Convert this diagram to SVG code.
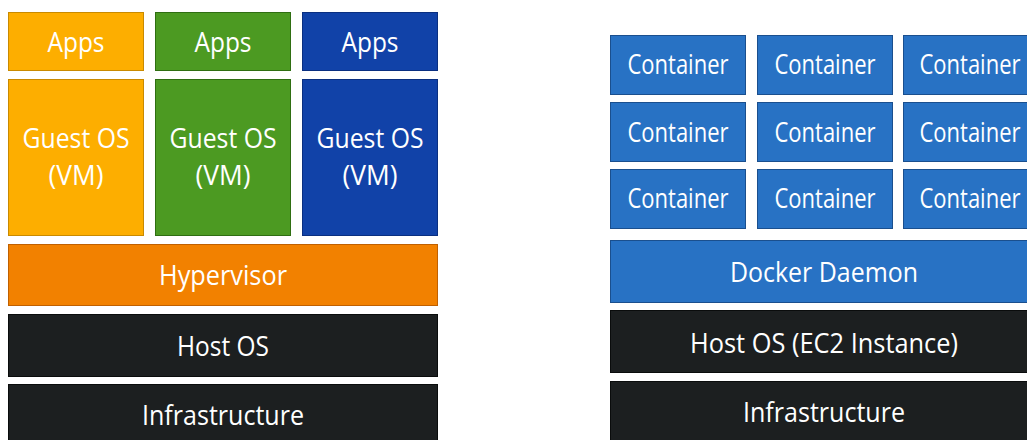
<svg xmlns="http://www.w3.org/2000/svg" width="1027" height="440" viewBox="0 0 1027 440">
<style>
text{font-family:"Open Sans","Noto Sans","Liberation Sans",sans-serif;font-size:27px;fill:#fff;text-anchor:middle}
.o{fill:#FDAE00;stroke:#C98A00;stroke-width:1}
.g{fill:#4C9A22;stroke:#2F6E12;stroke-width:1}
.b{fill:#1142A8;stroke:#0A2F80;stroke-width:1}
.h{fill:#F28100;stroke:#C06000;stroke-width:1}
.d{fill:#1C1F20;stroke:#0A0C0C;stroke-width:1}
.c{fill:#2872C4;stroke:#1A4F8E;stroke-width:1}
</style>
<rect width="1027" height="440" fill="#fff"/>
<g id="apps1"><rect class="o" x="8.5" y="12.5" width="135" height="58"/><text x="76" y="52" textLength="57" lengthAdjust="spacingAndGlyphs">Apps</text></g>
<g id="apps2"><rect class="g" x="155.5" y="12.5" width="135" height="58"/><text x="223" y="52" textLength="57" lengthAdjust="spacingAndGlyphs">Apps</text></g>
<g id="apps3"><rect class="b" x="302.5" y="12.5" width="135" height="58"/><text x="370" y="52" textLength="57" lengthAdjust="spacingAndGlyphs">Apps</text></g>
<g id="guest1"><rect class="o" x="8.5" y="79.5" width="135" height="156"/><text x="76" y="148" textLength="107" lengthAdjust="spacingAndGlyphs">Guest OS</text><text x="76" y="185" textLength="55" lengthAdjust="spacingAndGlyphs">(VM)</text></g>
<g id="guest2"><rect class="g" x="155.5" y="79.5" width="135" height="156"/><text x="223" y="148" textLength="107" lengthAdjust="spacingAndGlyphs">Guest OS</text><text x="223" y="185" textLength="55" lengthAdjust="spacingAndGlyphs">(VM)</text></g>
<g id="guest3"><rect class="b" x="302.5" y="79.5" width="135" height="156"/><text x="370" y="148" textLength="107" lengthAdjust="spacingAndGlyphs">Guest OS</text><text x="370" y="185" textLength="55" lengthAdjust="spacingAndGlyphs">(VM)</text></g>
<g id="hypervisor"><rect class="h" x="8.5" y="244.5" width="429" height="61"/><text x="223" y="285" textLength="128" lengthAdjust="spacingAndGlyphs">Hypervisor</text></g>
<g id="hostos1"><rect class="d" x="8.5" y="314.5" width="429" height="62"/><text x="223" y="356" textLength="92" lengthAdjust="spacingAndGlyphs">Host OS</text></g>
<g id="infra1"><rect class="d" x="8.5" y="384.5" width="429" height="70"/><text x="223" y="425" textLength="162" lengthAdjust="spacingAndGlyphs">Infrastructure</text></g>

<g id="c11"><rect class="c" x="610.5" y="35.5" width="135" height="59"/><text x="678" y="74" textLength="101" lengthAdjust="spacingAndGlyphs">Container</text></g>
<g id="c12"><rect class="c" x="757.5" y="35.5" width="135" height="59"/><text x="825" y="74" textLength="101" lengthAdjust="spacingAndGlyphs">Container</text></g>
<g id="c13"><rect class="c" x="903.5" y="35.5" width="135" height="59"/><text x="970" y="74" textLength="101" lengthAdjust="spacingAndGlyphs">Container</text></g>
<g id="c21"><rect class="c" x="610.5" y="102.5" width="135" height="59"/><text x="678" y="142" textLength="101" lengthAdjust="spacingAndGlyphs">Container</text></g>
<g id="c22"><rect class="c" x="757.5" y="102.5" width="135" height="59"/><text x="825" y="142" textLength="101" lengthAdjust="spacingAndGlyphs">Container</text></g>
<g id="c23"><rect class="c" x="903.5" y="102.5" width="135" height="59"/><text x="970" y="142" textLength="101" lengthAdjust="spacingAndGlyphs">Container</text></g>
<g id="c31"><rect class="c" x="610.5" y="169.5" width="135" height="59"/><text x="678" y="208" textLength="101" lengthAdjust="spacingAndGlyphs">Container</text></g>
<g id="c32"><rect class="c" x="757.5" y="169.5" width="135" height="59"/><text x="825" y="208" textLength="101" lengthAdjust="spacingAndGlyphs">Container</text></g>
<g id="c33"><rect class="c" x="903.5" y="169.5" width="135" height="59"/><text x="970" y="208" textLength="101" lengthAdjust="spacingAndGlyphs">Container</text></g>
<g id="docker"><rect class="c" x="610.5" y="240.5" width="428" height="62"/><text x="824" y="282" textLength="188" lengthAdjust="spacingAndGlyphs">Docker Daemon</text></g>
<g id="hostos2"><rect class="d" x="610.5" y="310.5" width="428" height="62"/><text x="824" y="353" textLength="268" lengthAdjust="spacingAndGlyphs">Host OS (EC2 Instance)</text></g>
<g id="infra2"><rect class="d" x="610.5" y="381.5" width="428" height="70"/><text x="824" y="422" textLength="162" lengthAdjust="spacingAndGlyphs">Infrastructure</text></g>
<g id="connectors"></g>
</svg>
